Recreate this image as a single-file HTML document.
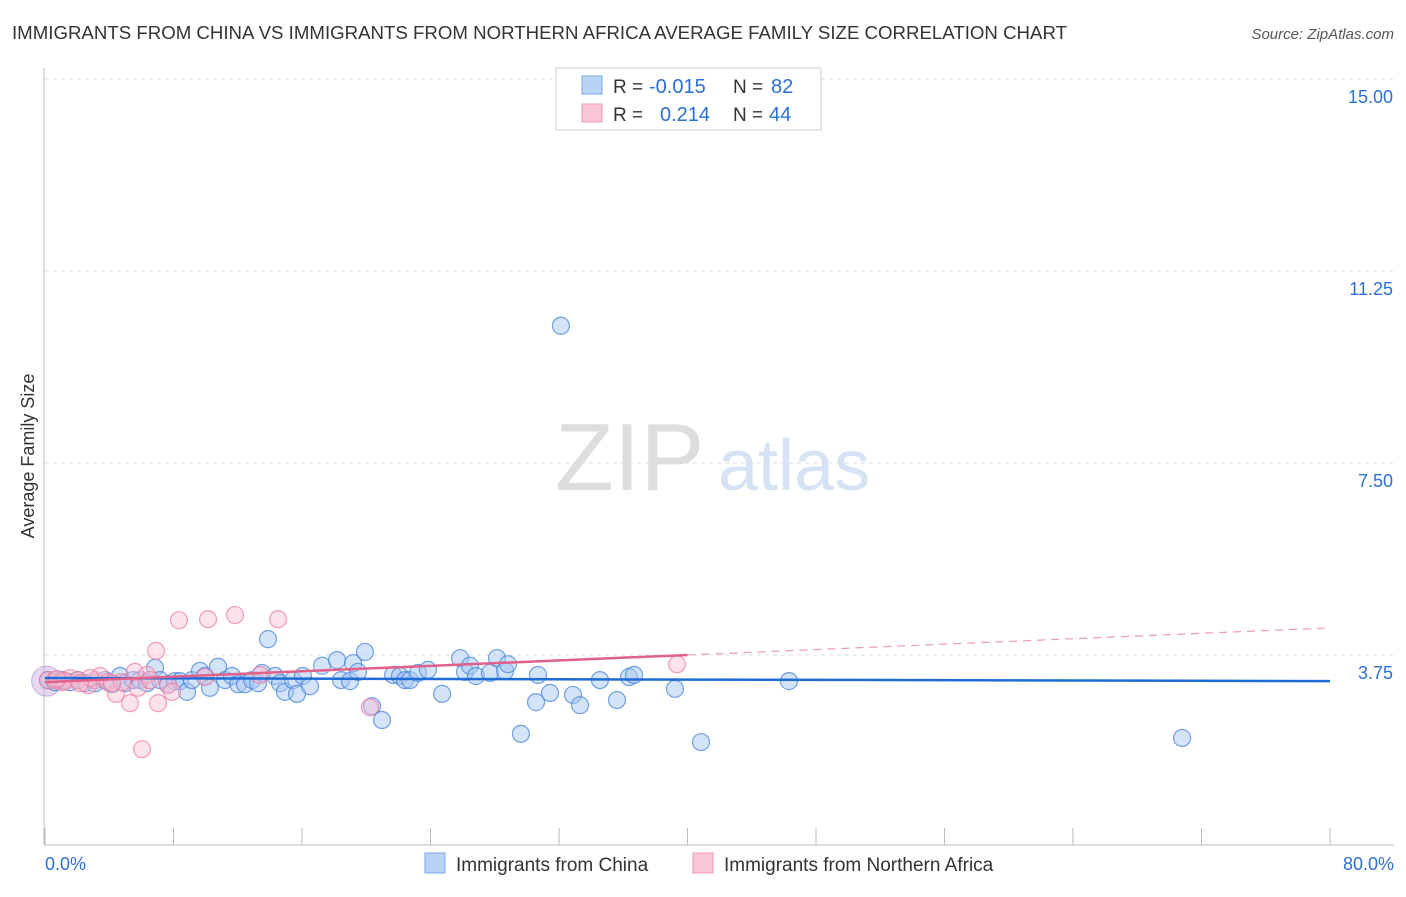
<!DOCTYPE html>
<html><head><meta charset="utf-8">
<style>
body{margin:0;background:#fff;font-family:"Liberation Sans",sans-serif;}
svg text{font-family:"Liberation Sans",sans-serif;}
</style></head><body>
<svg id="c" width="1406" height="892">
<text x="12" y="39" font-size="18" fill="#333" textLength="1055" lengthAdjust="spacingAndGlyphs">IMMIGRANTS FROM CHINA VS IMMIGRANTS FROM NORTHERN AFRICA AVERAGE FAMILY SIZE CORRELATION CHART</text>
<text x="1394" y="39" font-size="15" fill="#555" font-style="italic" text-anchor="end">Source: ZipAtlas.com</text>
<text x="555" y="490" font-size="96" fill="#ddd" font-family="Liberation Serif">ZIP</text>
<text x="718" y="490" font-size="72" fill="#d5e3f5">atlas</text>
<text transform="translate(34,456) rotate(-90)" font-size="18" fill="#333" text-anchor="middle">Average Family Size</text>
<g id="grid"></g><g id="pts"></g><g id="lines"></g>
<g>
<rect x="556" y="68" width="265" height="62" fill="#fff" stroke="#ccc"/>
<rect x="582" y="76" width="20" height="18" fill="#b8d3f5" stroke="#7aa8e6"/>
<rect x="582" y="104" width="20" height="18" fill="#f9c6d6" stroke="#ee9ab4"/>
<text x="613" y="93" font-size="19" fill="#333">R =</text>
<text x="649" y="93" font-size="20" fill="#2c6fd6">-0.015</text>
<text x="733" y="93" font-size="19" fill="#333">N =</text>
<text x="771" y="93" font-size="20" fill="#2c6fd6">82</text>
<text x="613" y="121" font-size="19" fill="#333">R =</text>
<text x="660" y="121" font-size="20" fill="#2c6fd6">0.214</text>
<text x="733" y="121" font-size="19" fill="#333">N =</text>
<text x="769" y="121" font-size="20" fill="#2c6fd6">44</text>
</g>
<g>
<rect x="425" y="853" width="20" height="20" fill="#b8d3f5" stroke="#7aa8e6"/>
<text x="456" y="871" font-size="19" fill="#333">Immigrants from China</text>
<rect x="693" y="853" width="20" height="20" fill="#f9c6d6" stroke="#ee9ab4"/>
<text x="724" y="871" font-size="19" fill="#333">Immigrants from Northern Africa</text>
</g>
</svg>
<script>
const yTicks=[3.75,7.50,11.25,15.00];
const yTickLabels=["3.75","7.50","11.25","15.00"];
const xLabels=["0.0%","80.0%"];
const chinaX=[0.19,0.62,1.06,1.56,2.05,2.49,3.11,3.74,4.17,4.67,4.98,5.48,5.91,6.35,6.85,7.16,7.66,8.09,8.40,8.84,9.15,9.65,9.96,10.27,10.77,11.21,11.64,12.02,12.45,12.89,13.26,13.51,13.88,14.32,14.63,14.94,15.44,15.69,16.06,16.50,17.25,18.18,18.43,18.99,19.18,19.49,19.92,20.36,20.98,21.67,22.10,22.41,22.72,23.22,23.84,24.72,25.84,26.15,26.46,26.83,27.70,28.14,28.64,28.82,29.63,30.57,30.69,31.44,32.12,32.87,33.31,34.55,35.61,36.36,36.67,39.22,40.84,46.32,70.79];
const chinaY=[3.26,3.22,3.26,3.22,3.26,3.20,3.20,3.26,3.18,3.34,3.20,3.26,3.26,3.20,3.50,3.26,3.18,3.24,3.24,3.03,3.26,3.44,3.34,3.11,3.52,3.26,3.34,3.18,3.18,3.26,3.20,3.40,4.06,3.34,3.20,3.03,3.26,2.99,3.34,3.14,3.54,3.65,3.26,3.24,3.59,3.42,3.81,2.75,2.48,3.36,3.34,3.26,3.26,3.40,3.46,2.99,3.69,3.42,3.54,3.34,3.40,3.69,3.44,3.57,2.21,2.83,3.36,3.01,10.18,2.97,2.77,3.26,2.87,3.32,3.36,3.09,2.05,3.24,2.13];
const afrX=[0.19,0.62,1.06,1.56,2.05,2.68,3.11,3.42,3.92,4.42,4.79,5.29,5.60,5.79,6.04,6.35,6.54,6.91,7.04,7.66,7.91,8.34,10.15,11.83,14.51,9.96,13.39,20.23,39.35,4.17,2.80,1.25,2.18,0.75];
const afrY=[3.26,3.26,3.22,3.30,3.26,3.16,3.26,3.34,3.22,2.99,3.22,2.81,3.42,3.11,1.91,3.36,3.26,3.83,2.81,3.16,3.03,4.43,4.45,4.53,4.45,3.32,3.36,2.73,3.57,3.20,3.30,3.24,3.20,3.28];
const chinaTrend=[3.30,3.24];
const afrTrend=[3.22,4.28];
const X=v=>45+v/80*1285, Y=v=>847-v*51.2;
const NS="http://www.w3.org/2000/svg";
function mk(p,t,a){const e=document.createElementNS(NS,t);for(const k in a)e.setAttribute(k,a[k]);document.getElementById(p).appendChild(e);return e;}
yTicks.forEach((t,i)=>{
 const l=mk('grid','line',{x1:45,x2:1394,y1:Y(t),y2:Y(t),stroke:'#ddd','stroke-dasharray':'4,4'});
 
 
 const tx=mk('grid','text',{x:1393,y:Y(t)+24,'font-size':18,fill:'#2c6fd6','text-anchor':'end'});tx.textContent=yTickLabels[i];
 
 
});
const ax=mk('grid','line',{x1:44,x2:44,y1:68,y2:845,stroke:'#bbb'});


const bx=mk('grid','line',{x1:44,x2:1394,y1:845,y2:845,stroke:'#bbb'});


for(let i=0;i<=10;i++){const t=mk('grid','line',{x1:X(i*8),x2:X(i*8),y1:828,y2:845,stroke:'#bbb'});
 
 }
[[0,'start',45],[80,'end',1394]].forEach((d,i)=>{const t=mk('grid','text',{x:d[2],y:870,'font-size':18,fill:'#2c6fd6','text-anchor':d[1]});t.textContent=xLabels[i];
 
 });
const big1=mk('pts','circle',{cx:X(0.1),cy:Y(3.24),r:15,fill:'rgba(200,170,220,0.45)',stroke:'rgba(150,120,200,0.5)'});


chinaX.forEach((x,i)=>{const c=mk('pts','circle',{cx:X(x),cy:Y(chinaY[i]),r:8.5,fill:'rgba(168,200,242,0.5)',stroke:'rgba(60,125,215,0.7)','stroke-width':1.2});
 
 });
afrX.forEach((x,i)=>{const c=mk('pts','circle',{cx:X(x),cy:Y(afrY[i]),r:8.5,fill:'rgba(249,190,210,0.45)',stroke:'rgba(232,120,160,0.7)','stroke-width':1.2});
 
 });
const lb=mk('lines','line',{x1:X(0),y1:Y(chinaTrend[0]),x2:X(80),y2:Y(chinaTrend[1]),stroke:'#1f6bd6','stroke-width':2.5});


const s=(afrTrend[1]-afrTrend[0])/80;
const lp=mk('lines','line',{x1:X(0),y1:Y(afrTrend[0]),x2:X(40),y2:Y(afrTrend[0]+s*40),stroke:'#e2608a','stroke-width':2.5});


const ld=mk('lines','line',{x1:X(40),y1:Y(afrTrend[0]+s*40),x2:X(80),y2:Y(afrTrend[1]),stroke:'#e89ab4','stroke-width':1.2,'stroke-dasharray':'8,6'});


</script>
</body></html>
